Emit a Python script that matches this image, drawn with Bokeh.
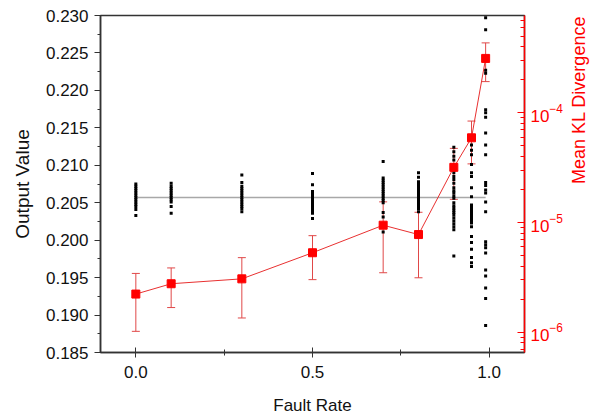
import math
from bokeh.plotting import figure
from bokeh.models import (Range1d, LogScale, LogAxis, FixedTicker, LogTickFormatter,
                          NumeralTickFormatter, Whisker, TeeHead, ColumnDataSource)
from bokeh.embed import file_html
from bokeh.resources import INLINE

# ---------------- data ----------------
fault_rates = [0.0, 0.1, 0.3, 0.5, 0.7, 0.8, 0.9, 0.95, 0.99]

out_000 = [0.2075, 0.2072, 0.2069, 0.2066, 0.2063, 0.2060, 0.2057, 0.2054, 0.2051,
           0.2048, 0.2045, 0.2041, 0.2033]
out_010 = [0.2076, 0.2072, 0.2069, 0.2066, 0.2063, 0.2060, 0.2057, 0.2054, 0.2051,
           0.2045, 0.2036]
out_030 = [0.2087, 0.2077, 0.2072, 0.2069, 0.2066, 0.2063, 0.2060, 0.2057, 0.2054,
           0.2051, 0.2048, 0.2045, 0.2042, 0.2038]
out_050 = [0.2089, 0.2074, 0.2065, 0.2062, 0.2059, 0.2056, 0.2053, 0.2050, 0.2047,
           0.2044, 0.2041, 0.2038, 0.2036, 0.2029]
out_070 = [0.2105, 0.2083, 0.2080, 0.2077, 0.2074, 0.2071, 0.2068, 0.2065, 0.2062,
           0.2059, 0.2056, 0.2053, 0.2050, 0.2037, 0.2031, 0.2018, 0.2011]
out_080 = [0.2090, 0.2084, 0.2078, 0.2075, 0.2072, 0.2069, 0.2066, 0.2063, 0.2060,
           0.2057, 0.2054, 0.2051, 0.2048, 0.2045, 0.2042, 0.2038]
out_090 = [0.2124, 0.2118, 0.2112, 0.2107, 0.2100, 0.2093, 0.2090, 0.2085, 0.2081,
           0.2076, 0.2070, 0.2066, 0.2063, 0.2059, 0.2056, 0.2050, 0.2046, 0.2043,
           0.2040, 0.2037, 0.2034, 0.2030, 0.2026, 0.2022, 0.2018, 0.2014, 0.1979]
out_095 = [0.2127, 0.2120, 0.2114, 0.2101, 0.2090, 0.2085, 0.2070, 0.2058, 0.2047,
           0.2044, 0.2041, 0.2038, 0.2035, 0.2032, 0.2029, 0.2025, 0.2023, 0.2018,
           0.2005, 0.1997, 0.1988, 0.1977, 0.1970, 0.1965]
out_099 = [0.2297, 0.2281, 0.2227, 0.2223, 0.2174, 0.2170, 0.2164, 0.2143, 0.2127,
           0.2114, 0.2077, 0.2073, 0.2067, 0.2063, 0.2051, 0.2038, 0.1998, 0.1994,
           0.1990, 0.1983, 0.1960, 0.1952, 0.1936, 0.1922, 0.1886]

golden_output = 0.2057
golden_x = [0.0, 0.99]

kl_mean = [2.23e-6, 2.77e-6, 3.07e-6, 5.31e-6, 9.47e-6, 7.78e-6, 3.19e-5, 5.93e-5, 3.14e-4]
kl_sd = [1.21e-6, 1.09e-6, 1.72e-6, 2.29e-6, 5.98e-6, 4.64e-6, 1.56e-5, 2.50e-5, 1.21e-4]

x_ticks = [0.0, 0.5, 1.0]
x_minor = [0.25, 0.75]
y_ticks = [0.185, 0.190, 0.195, 0.200, 0.205, 0.210, 0.215, 0.220, 0.225, 0.230]
y_minor = [0.1875, 0.1925, 0.1975, 0.2025, 0.2075, 0.2125, 0.2175, 0.2225, 0.2275]
kl_ticks = [1e-6, 1e-5, 1e-4]
kl_minor = [k * 10.0 ** e for e in (-7, -6, -5, -4) for k in range(2, 10)]

x_title = "Fault Rate"
y_title = "Output Value"
y2_title = "Mean KL Divergence"

# ---------------- figure ----------------
FONT = "Liberation Sans"
RED = "#ff0000"

p = figure(width=601, height=417, output_backend="svg", toolbar_location=None,
           x_range=Range1d(-0.1, 1.1), y_range=Range1d(0.185, 0.230),
           min_border_left=100, min_border_right=75, min_border_top=15,
           min_border_bottom=64)
p.extra_y_ranges = {"kl": Range1d(6.54e-7, 7.73e-4)}
p.extra_y_scales = {"kl": LogScale()}

p.xgrid.visible = False
p.ygrid.visible = False
p.outline_line_color = "#333333"
p.outline_line_width = 1.5
p.background_fill_color = "white"
p.border_fill_color = "white"

# x axis
xa = p.xaxis[0]
xa.ticker = FixedTicker(ticks=x_ticks, minor_ticks=x_minor)
xa.formatter = NumeralTickFormatter(format="0.0")
xa.axis_label = x_title
xa.major_tick_in = 5
xa.major_tick_out = 5
xa.minor_tick_in = 3
xa.minor_tick_out = 3
xa.major_label_standoff = 8
xa.axis_label_standoff = 15
xa.axis_label_text_font_size = "17px"

# left y axis
ya = p.yaxis[0]
ya.ticker = FixedTicker(ticks=y_ticks, minor_ticks=y_minor)
ya.formatter = NumeralTickFormatter(format="0.000")
ya.axis_label = y_title
ya.major_tick_in = 0
ya.major_tick_out = 6
ya.minor_tick_in = 0
ya.minor_tick_out = 3
ya.major_label_standoff = 6
ya.axis_label_standoff = 10
ya.axis_label_text_font_size = "19px"

for ax in (xa, ya):
    ax.axis_line_color = "#333333"
    ax.axis_line_width = 1.5
    ax.major_tick_line_color = "#333333"
    ax.minor_tick_line_color = "#333333"
    ax.major_label_text_font = FONT
    ax.major_label_text_font_size = "17px"
    ax.major_label_text_color = "#111111"
    ax.axis_label_text_font = FONT
    ax.axis_label_text_font_style = "normal"
    ax.axis_label_text_color = "#111111"

# right log axis
ra = LogAxis(y_range_name="kl",
             ticker=FixedTicker(ticks=kl_ticks, minor_ticks=kl_minor),
             formatter=LogTickFormatter())
ra.axis_label = y2_title
ra.axis_label_orientation = math.pi / 2
ra.axis_line_color = RED
ra.axis_line_width = 1.5
ra.major_tick_line_color = RED
ra.minor_tick_line_color = RED
ra.major_tick_in = 7
ra.major_tick_out = 0
ra.minor_tick_in = 4
ra.minor_tick_out = 0
ra.major_label_standoff = 6
ra.axis_label_standoff = 13
ra.major_label_text_font = FONT
ra.major_label_text_font_size = "17px"
ra.major_label_text_color = RED
ra.axis_label_text_font = FONT
ra.axis_label_text_font_size = "18px"
ra.axis_label_text_font_style = "normal"
ra.axis_label_text_color = RED
p.add_layout(ra, "right")

# golden reference line
p.line(golden_x, [golden_output, golden_output], line_color="#a8a8a8", line_width=1.5)

# output scatter columns
columns = [out_000, out_010, out_030, out_050, out_070, out_080, out_090, out_095, out_099]
sx, sy = [], []
for rate, vals in zip(fault_rates, columns):
    sx.extend([rate] * len(vals))
    sy.extend(vals)
p.scatter(sx, sy, marker="square", size=3, fill_color="black", line_color="black",
          line_width=0)

# KL divergence series with error bars
kl_src = ColumnDataSource(dict(
    x=fault_rates, y=kl_mean,
    upper=[m + s for m, s in zip(kl_mean, kl_sd)],
    lower=[m - s for m, s in zip(kl_mean, kl_sd)],
))
wh = Whisker(base="x", upper="upper", lower="lower", source=kl_src, y_range_name="kl",
             line_color="#e04848", line_width=1,
             upper_head=TeeHead(size=8, line_color="#e04848", line_width=1),
             lower_head=TeeHead(size=8, line_color="#e04848", line_width=1))
p.add_layout(wh)
p.line("x", "y", source=kl_src, y_range_name="kl", line_color="#e83030", line_width=1)
p.scatter("x", "y", source=kl_src, y_range_name="kl", marker="square", size=8,
          fill_color=RED, line_color=RED)

open("out.html", "w").write(file_html(p, INLINE))
